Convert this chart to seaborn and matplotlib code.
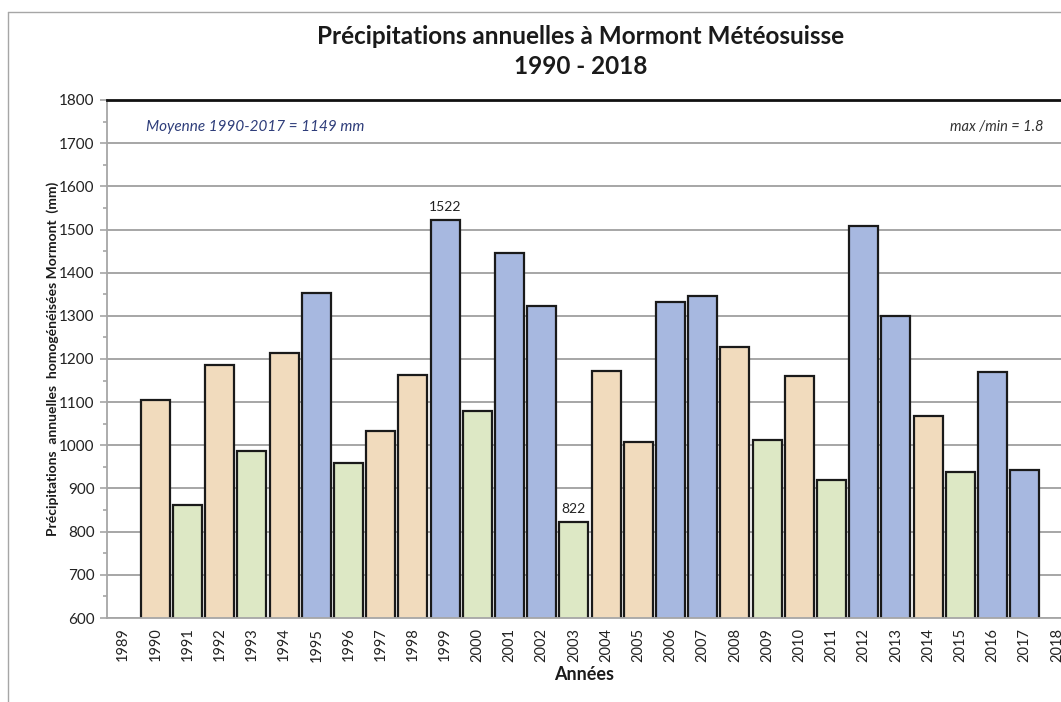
import matplotlib
matplotlib.use('Agg')
import matplotlib.pyplot as plt
import numpy as np
import seaborn as sns
from matplotlib.lines import Line2D
from matplotlib.ticker import MultipleLocator, AutoMinorLocator

years = [str(y) for y in range(1989, 2019)]
dataYears = [str(y) for y in range(1990, 2018)]
precip = [1105, 862, 1187, 987, 1213, 1353, 958, 1033, 1162, 1522,
          1080, 1445, 1323, 822, 1173, 1008, 1331, 1347, 1227, 1013,
          1161, 920, 1507, 1300, 1067, 938, 1170, 943]
# classe de chaque année : N = proche moyenne, S = sec, H = humide
classes = ['N', 'S', 'N', 'S', 'N', 'H', 'S', 'N', 'N', 'H',
           'S', 'H', 'H', 'S', 'N', 'N', 'H', 'H', 'N', 'S',
           'N', 'S', 'H', 'H', 'N', 'S', 'H', 'H']
labelled = {'1999': '1522', '2003': '822'}

clsColor = {'N': '#F1DBBD', 'S': '#DDE8C5', 'H': '#A7B8E0'}
palette = {yr: clsColor[c] for yr, c in zip(dataYears, classes)}

sns.set_theme(style='white')
plt.rcParams['font.family'] = ['Lato', 'DejaVu Sans']

fig = plt.figure(figsize=(10.61, 7.02), dpi=100)
ax = fig.add_axes([107/1061, 84/702, 966/1061, 518/702])

sns.barplot(x=dataYears, y=precip, hue=dataYears, palette=palette, order=years,
            width=0.9, edgecolor='#1a1a1a', linewidth=1.6, saturation=1,
            legend=False, ax=ax)

ax.set_ylim(600, 1800)
ax.set_xlim(-0.5, len(years) - 0.5)
ax.yaxis.set_major_locator(MultipleLocator(100))
ax.yaxis.set_minor_locator(AutoMinorLocator(2))
ax.yaxis.grid(True, color='#A6A6A6', lw=1.4)
ax.set_axisbelow(True)

for side in ['left', 'bottom']:
    ax.spines[side].set_color('#A6A6A6')
    ax.spines[side].set_linewidth(1.3)
ax.spines['top'].set_color('#111111')
ax.spines['top'].set_linewidth(2)
ax.spines['right'].set_visible(False)

ax.tick_params(axis='y', which='major', left=True, length=5, width=1.2, color='#A6A6A6',
               labelsize=11, labelcolor='#222222', pad=4)
ax.tick_params(axis='y', which='minor', left=True, length=3, width=1.2, color='#A6A6A6')
ax.tick_params(axis='x', length=0, labelsize=10.5, labelcolor='#222222', pad=7)
ax.set_xticks(range(len(years)))
ax.set_xticklabels(years, rotation=90)
ax.set_xlabel('')
ax.set_ylabel('')

for yr, txt in labelled.items():
    v = precip[dataYears.index(yr)]
    ax.annotate(txt, xy=(years.index(yr), v), xytext=(0, 5), textcoords='offset points',
                ha='center', va='bottom', fontsize=10, color='#222222')

ax.text(0.0404, 0.948, 'Moyenne 1990-2017 = 1149 mm', transform=ax.transAxes,
        ha='left', va='center', fontsize=11, style='italic', color='#2E3D7A')
ax.text(0.969, 0.948, 'max /min = 1.8', transform=ax.transAxes,
        ha='right', va='center', fontsize=10.5, style='italic', color='#333333')

fig.text(0.5476, 1 - 37/702, 'Précipitations annuelles à Mormont Météosuisse',
         ha='center', va='center', fontsize=17.5, fontweight='bold', color='#1a1a1a')
fig.text(0.5476, 1 - 67/702, '1990 - 2018',
         ha='center', va='center', fontsize=17.5, fontweight='bold', color='#1a1a1a')
fig.text(53/1061, 1 - 359/702, 'Précipitations  annuelles  homogénéisées Mormont  (mm)',
         rotation=90, ha='center', va='center', fontsize=10, fontweight='bold', color='#1a1a1a')
fig.text(584/1061, 1 - 674/702, 'Années', ha='center', va='center',
         fontsize=13, fontweight='bold', color='#1a1a1a')

# cadre de la zone de graphique
fig.add_artist(Line2D([8/1061, 8/1061], [0, 1 - 12/702], transform=fig.transFigure,
                      color='#A6A6A6', lw=1))
fig.add_artist(Line2D([8/1061, 1], [1 - 12/702, 1 - 12/702], transform=fig.transFigure,
                      color='#A6A6A6', lw=1))

fig.savefig('out.png', dpi=100)
